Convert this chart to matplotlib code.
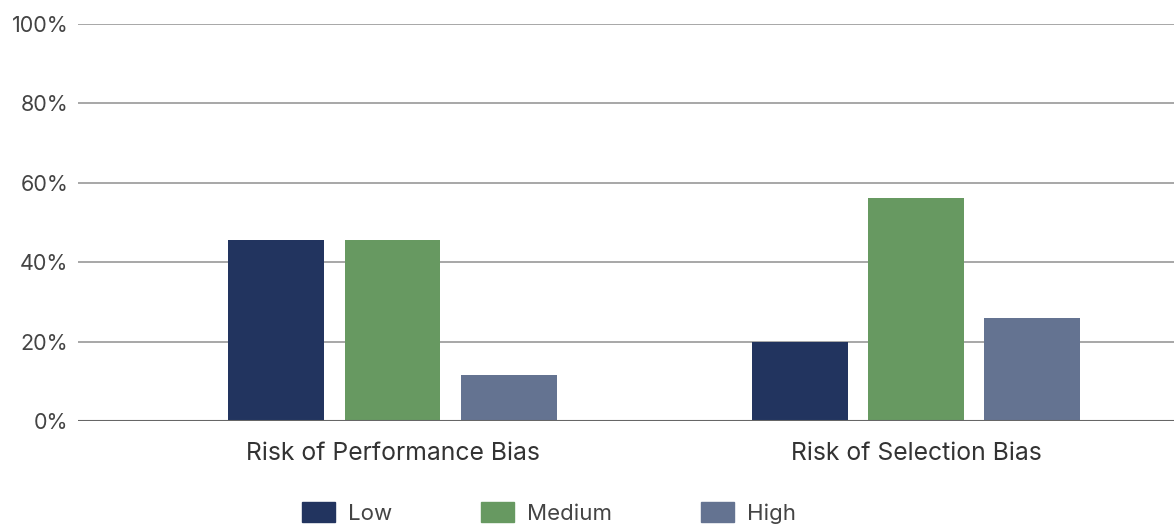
import matplotlib
matplotlib.use("Agg")
import matplotlib.pyplot as plt
from matplotlib.patches import Patch
import numpy as np

# -- Data ----------------------------------------------------------------------
categories = ["Risk of Performance Bias", "Risk of Selection Bias"]
levels     = ["Low", "Medium", "High"]
low_vals    = [45.6, 20.0]
medium_vals = [45.6, 56.2]
high_vals   = [11.6, 25.9]
yticks      = [0, 20, 40, 60, 80, 100]

# -- Style ---------------------------------------------------------------------
COLORS    = ["#22345F", "#679961", "#647391"]
TEXT_COL  = "#444444"
plt.rcParams["font.family"] = ["Inter", "DejaVu Sans"]

fig = plt.figure(figsize=(11.74, 5.27), dpi=100)
ax = fig.add_axes([78 / 1174, (527 - 421) / 527, 1 - 78 / 1174, (421 - 24) / 527])

x = np.arange(len(categories))
offset, width = 0.222, 0.183
for i, (vals, col) in enumerate(zip([low_vals, medium_vals, high_vals], COLORS)):
    ax.bar(x + (i - 1) * offset, vals, width=width, color=col, zorder=3)

ax.set_ylim(0, 100)
ax.set_xlim(-0.601, 1.493)
ax.set_yticks(yticks)
ax.set_yticklabels([f"{t}%" for t in yticks])
ax.set_xticks(x)
ax.set_xticklabels(categories)
ax.tick_params(axis="y", length=0, pad=7, labelsize=15.5, labelcolor=TEXT_COL)
ax.tick_params(axis="x", length=0, pad=15, labelsize=17.8, labelcolor="#333333")

for spine in ax.spines.values():
    spine.set_visible(False)
ax.grid(axis="y", color="#a0a0a0", linewidth=1.3, zorder=0)
ax.axhline(0, color="#666666", linewidth=1.5, zorder=4)

handles = [Patch(color=c, label=l) for c, l in zip(COLORS, levels)]
fig.legend(handles=handles, loc="center", bbox_to_anchor=(549 / 1174, 1 - 513 / 527),
           ncol=3, frameon=False, fontsize=16, handlelength=1.49, handleheight=0.99,
           handletextpad=0.59, columnspacing=4.0, labelcolor=TEXT_COL)

fig.savefig("out.png", dpi=100)
